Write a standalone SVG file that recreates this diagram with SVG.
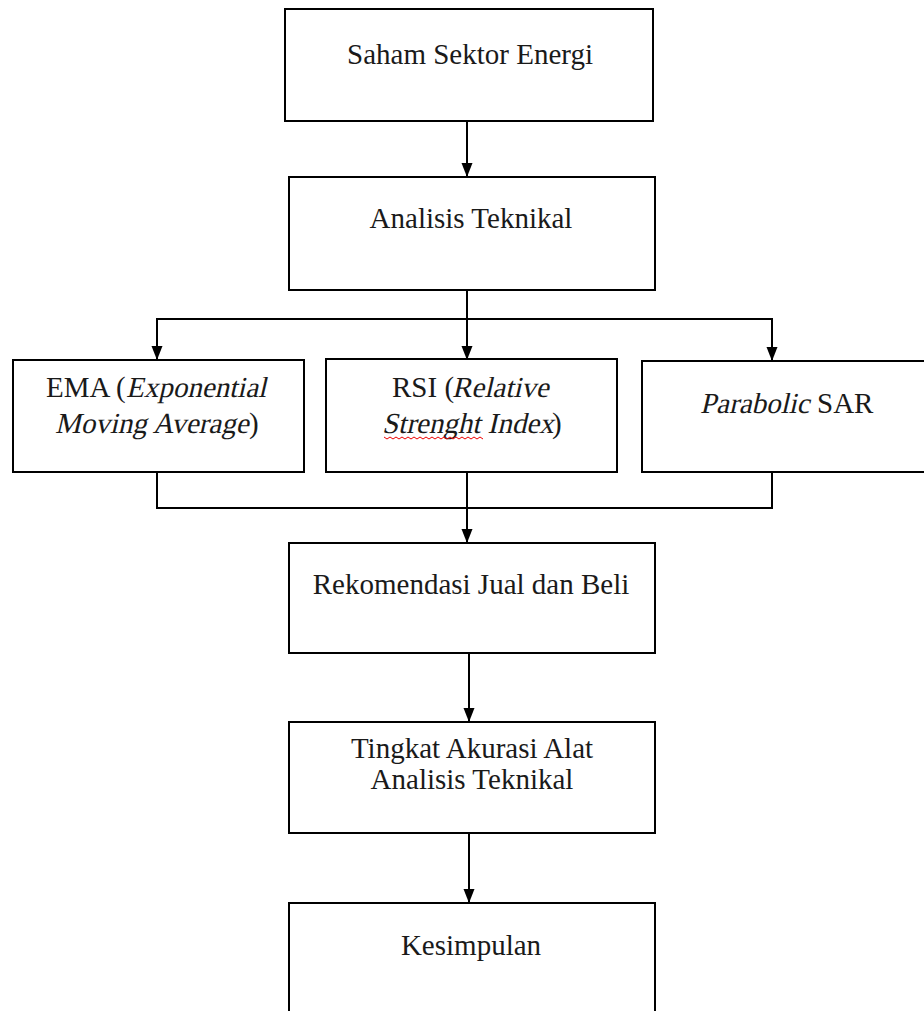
<svg xmlns="http://www.w3.org/2000/svg" width="924" height="1011" viewBox="0 0 924 1011">
<style>
.box{fill:#fff;stroke:#000;stroke-width:2}
.t{font-family:"Liberation Serif","Times New Roman",serif;font-size:29px;fill:#1a1a1a;text-anchor:middle}
.s{font-family:"Liberation Serif","Times New Roman",serif;font-size:29px;fill:#1a1a1a;text-anchor:start}
.c{fill:none;stroke:#000;stroke-width:2}
</style>
<defs>
<marker id="ah" markerUnits="userSpaceOnUse" markerWidth="14" markerHeight="14" refX="14" refY="7" orient="auto" viewBox="0 0 14 14">
<path d="M0,1.5 L14,7 L0,12.5 z" fill="#000"/>
</marker>
</defs>
<rect width="924" height="1011" fill="#fff"/>
<g id="connectors">
<line class="c" x1="467" y1="121" x2="467" y2="177" marker-end="url(#ah)"/>
<line class="c" x1="467" y1="290" x2="467" y2="360" marker-end="url(#ah)"/>
<line class="c" x1="157" y1="319" x2="772" y2="319"/>
<line class="c" x1="157" y1="318" x2="157" y2="360" marker-end="url(#ah)"/>
<line class="c" x1="772" y1="318" x2="772" y2="361" marker-end="url(#ah)"/>
<polyline class="c" points="157,472 157,508 772,508 772,472"/>
<line class="c" x1="467" y1="472" x2="467" y2="543" marker-end="url(#ah)"/>
<line class="c" x1="469" y1="653" x2="469" y2="722" marker-end="url(#ah)"/>
<line class="c" x1="469" y1="833" x2="469" y2="903" marker-end="url(#ah)"/>
</g>
<g id="n1">
<rect class="box" x="285" y="9" width="368" height="112"/>
<text class="t" x="470" y="64">Saham Sektor Energi</text>
</g>
<g id="n2">
<rect class="box" x="289" y="177" width="366" height="113"/>
<text class="t" x="471" y="228">Analisis Teknikal</text>
</g>
<g id="n3">
<rect class="box" x="13" y="360" width="291" height="112"/>
<text class="s" x="46" y="397">EMA (</text>
<text class="s" transform="translate(126,397) skewX(-13)">Exponential</text>
<text class="s" transform="translate(55,433) skewX(-13)">Moving Average</text>
<text class="s" x="249" y="433">)</text>
</g>
<g id="n4">
<rect class="box" x="326" y="359" width="291" height="113"/>
<text class="s" x="392" y="397">RSI (</text>
<text class="s" transform="translate(452,397) skewX(-13)">Relative</text>
<text class="s" transform="translate(382,433) skewX(-13)">Strenght Index</text>
<text class="s" x="552" y="433">)</text>
<path d="M384,437 l3,2 l3,-2 l3,2 l3,-2 l3,2 l3,-2 l3,2 l3,-2 l3,2 l3,-2 l3,2 l3,-2 l3,2 l3,-2 l3,2 l3,-2 l3,2 l3,-2 l3,2 l3,-2 l3,2 l3,-2 l3,2 l3,-2 l3,2 l3,-2 l3,2 l3,-2 l3,2 l3,-2 l3,2 l3,-2 l3,2" fill="none" stroke="#e00" stroke-width="1"/>
</g>
<g id="n5">
<rect class="box" x="642" y="361" width="300" height="111"/>
<text class="s" transform="translate(700,413) skewX(-13)">Parabolic</text>
<text class="s" x="817" y="413">SAR</text>
</g>
<g id="n6">
<rect class="box" x="289" y="543" width="366" height="110"/>
<text class="t" x="471" y="594">Rekomendasi Jual dan Beli</text>
</g>
<g id="n7">
<rect class="box" x="289" y="722" width="366" height="111"/>
<text class="t" x="472" y="758">Tingkat Akurasi Alat</text>
<text class="t" x="472" y="789">Analisis Teknikal</text>
</g>
<g id="n8">
<rect class="box" x="289" y="903" width="366" height="130"/>
<text class="t" x="471" y="955">Kesimpulan</text>
</g>
</svg>
